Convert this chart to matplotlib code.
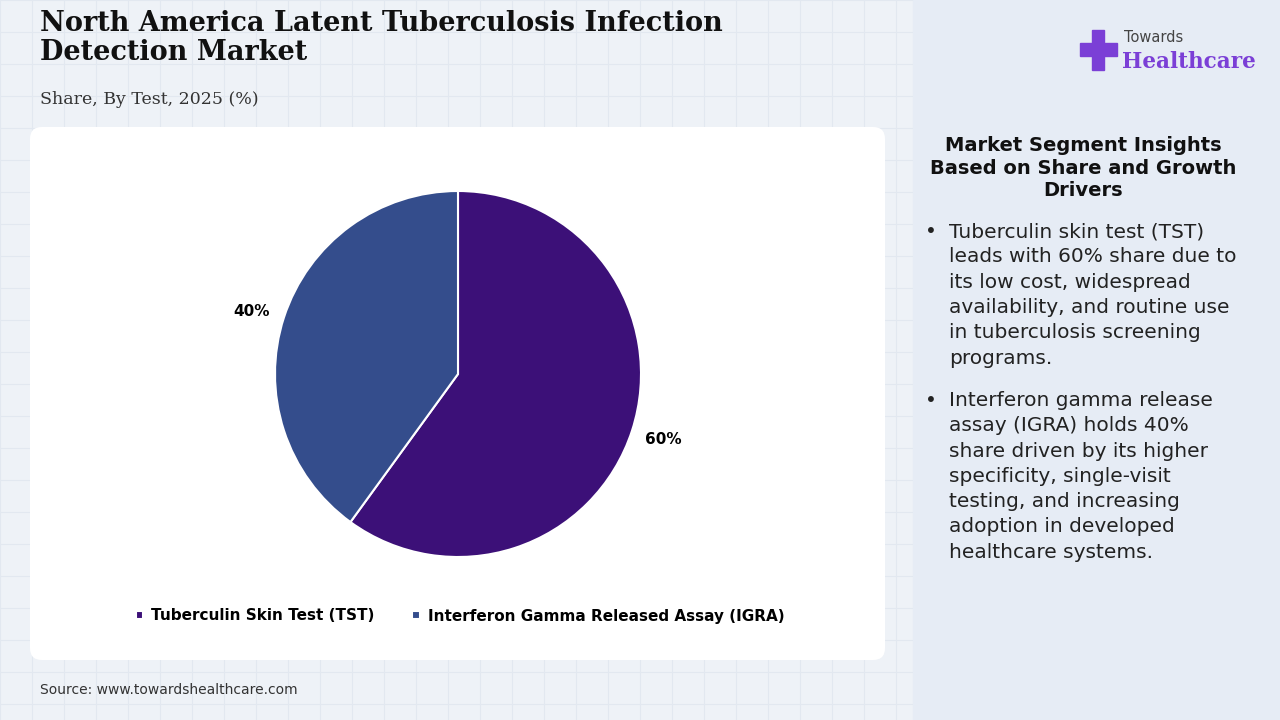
import matplotlib.pyplot as plt
from matplotlib.patches import FancyBboxPatch, Rectangle

labels = ["Tuberculin Skin Test (TST)", "Interferon Gamma Released Assay (IGRA)"]
shares = [60, 40]
colors = ["#3c1078", "#344d8c"]

title = "North America Latent Tuberculosis Infection\nDetection Market"
subtitle = "Share, By Test, 2025 (%)"
insight_head = "Market Segment Insights\nBased on Share and Growth\nDrivers"
bullets = [
    "Tuberculin skin test (TST)\nleads with 60% share due to\nits low cost, widespread\navailability, and routine use\nin tuberculosis screening\nprograms.",
    "Interferon gamma release\nassay (IGRA) holds 40%\nshare driven by its higher\nspecificity, single-visit\ntesting, and increasing\nadoption in developed\nhealthcare systems.",
]

W, H = 1280, 720
fig = plt.figure(figsize=(12.8, 7.2), dpi=100)
bg = fig.add_axes([0, 0, 1, 1])
bg.set_xlim(0, W)
bg.set_ylim(H, 0)
bg.axis("off")
bg.add_patch(Rectangle((0, 0), 913, H, color="#eef2f7", zorder=0))
for x in range(0, 913, 32):
    bg.plot([x, x], [0, H], color="#e2e8f0", lw=0.8, zorder=1)
for y in range(0, H, 32):
    bg.plot([0, 913], [y, y], color="#e2e8f0", lw=0.8, zorder=1)
bg.add_patch(Rectangle((913, 0), W - 913, H, color="#e6ecf5", zorder=3))
bg.add_patch(FancyBboxPatch((30, 127), 855, 533, boxstyle="round,pad=0,rounding_size=12",
                            fc="white", ec="none", zorder=3))

bg.text(40, 38, title, fontsize=19.5, fontweight="bold", family="DejaVu Serif",
        va="center", color="#111111", linespacing=1.1, zorder=5)
bg.text(40, 99, subtitle, fontsize=12.5, family="DejaVu Serif", va="center", color="#333333", zorder=5)
bg.text(40, 690, "Source: www.towardshealthcare.com", fontsize=10, va="center", color="#333333", zorder=5)

# logo
bg.add_patch(Rectangle((1092, 30), 12, 40, color="#7b3fd6", zorder=4))
bg.add_patch(Rectangle((1080, 43), 37, 13, color="#7b3fd6", zorder=4))
bg.text(1124, 38, "Towards", fontsize=10.5, va="center", color="#444444", zorder=5)
bg.text(1122, 62, "Healthcare", fontsize=15.5, fontweight="bold", family="DejaVu Serif",
        va="center", color="#7b3fd6", zorder=5)

bg.text(1083, 168, insight_head, fontsize=14, fontweight="bold", ha="center",
        va="center", color="#111111", linespacing=1.25, zorder=5)
ys = [222, 391]
for y, b in zip(ys, bullets):
    bg.text(925, y, "•", fontsize=14.5, va="top", color="#222222", zorder=5)
    bg.text(949, y, b, fontsize=14.5, va="top", color="#222222", linespacing=1.42, zorder=5)

# pie
ax = fig.add_axes([(458 - 190) / W, 1 - (374 + 190) / H, 380 / W, 380 / H])
wedges, _ = ax.pie(shares, colors=colors, startangle=90, counterclock=False,
                   wedgeprops=dict(edgecolor="white", linewidth=1.5), radius=183 / 190)
ax.set_xlim(-1, 1)
ax.set_ylim(-1, 1)
bg.text(663, 439, f"{shares[0]}%", fontsize=11, fontweight="bold", ha="center", va="center", zorder=5)
bg.text(252, 311, f"{shares[1]}%", fontsize=11, fontweight="bold", ha="center", va="center", zorder=5)

leg = bg.legend(wedges, labels, loc="center", bbox_to_anchor=(460 / W, 1 - 616 / H),
                bbox_transform=fig.transFigure, ncol=2, frameon=False, handlelength=0.5,
                handleheight=0.5, handletextpad=0.5, columnspacing=2.5,
                prop=dict(size=11, weight="bold"))
leg.set_zorder(6)

fig.savefig("out.png", dpi=100)
